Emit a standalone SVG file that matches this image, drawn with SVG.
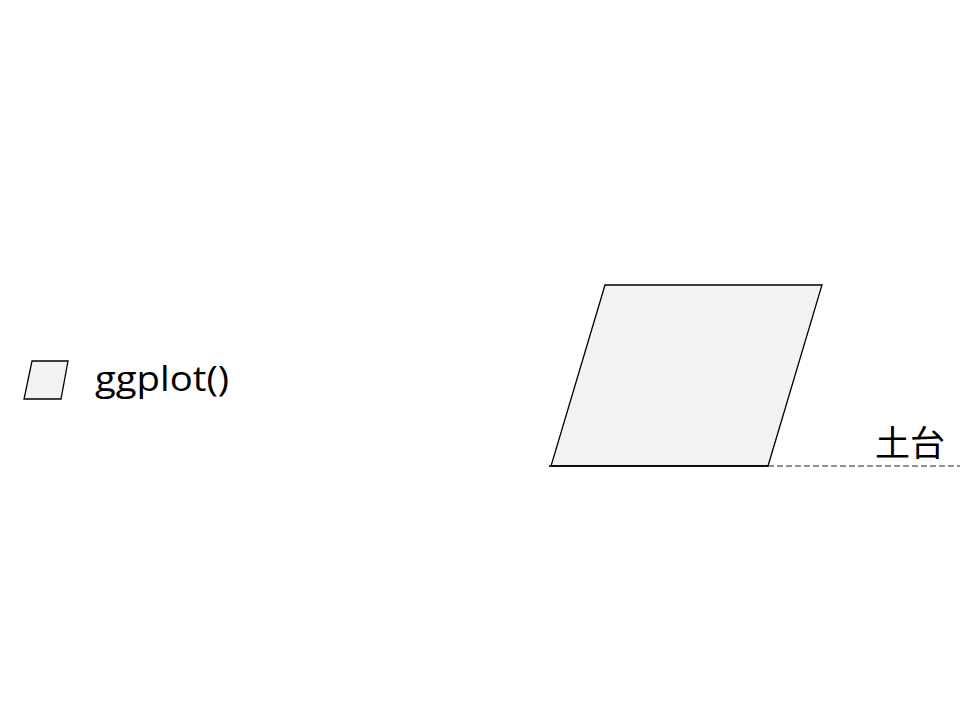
<svg xmlns="http://www.w3.org/2000/svg" width="960" height="720" viewBox="0 0 960 720">
<style>
.shape{fill:#f2f2f2;stroke:#000;stroke-width:1.3}
.lbl{font-family:"Open Sans","Liberation Sans","Noto Sans CJK JP",sans-serif;fill:#000}
</style>
<rect width="960" height="720" fill="#fff"/>
<g id="legend">
<polygon class="shape" points="32,361 68,361 61,399 24,399"/>
<text class="lbl" x="95" y="391" font-size="35" textLength="134" lengthAdjust="spacingAndGlyphs">ggplot()</text>
</g>
<g id="base">
<polygon class="shape" points="605,285 822,285 768,466 551,466"/>
</g>
<g id="connectors">
<line x1="549" y1="466" x2="768" y2="466" stroke="#000" stroke-width="1.3"/>
<line x1="768" y1="466" x2="960" y2="466" stroke="#222" stroke-width="1.1" stroke-dasharray="6,3"/>
</g>
<g id="label">
<text class="lbl" x="875" y="456" font-size="35" font-family="'Noto Sans CJK JP',sans-serif">土台</text>
</g>
</svg>
